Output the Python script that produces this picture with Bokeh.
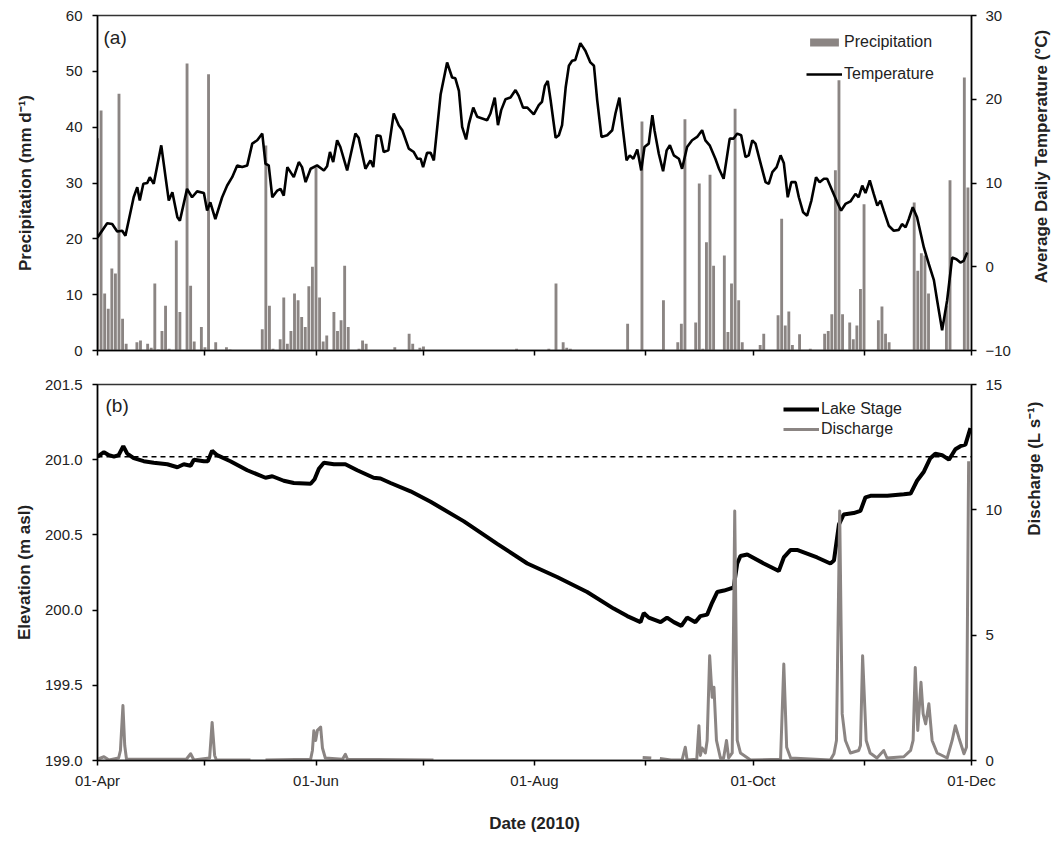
import math
import numpy as np
import pandas as pd
from bokeh.plotting import figure
from bokeh.models import (Range1d, LinearAxis, FixedTicker, DatetimeTickFormatter,
                          PrintfTickFormatter, Legend, LegendItem, Label, Span)
from bokeh.layouts import column, row
from bokeh.embed import file_html
from bokeh.resources import INLINE

# ---------------- data (days since 01-Apr-2010) ----------------
START = pd.Timestamp("2010-04-01")

precip_day = [0, 1, 2, 3, 4, 5, 6, 7, 8,
              11, 12, 14, 15, 16, 17, 18, 19, 20,
              22, 23, 25, 26, 27, 29, 30, 31, 33, 36, 37,
              46, 47, 48, 49, 51, 52, 53, 54, 55, 56, 57, 58, 59, 60, 61, 62, 63, 64,
              66, 67, 68, 69, 70, 73, 74, 75,
              83, 87, 88, 90, 91, 117, 126, 128, 130, 131, 132,
              148, 152, 158, 162, 163, 164, 167, 168, 169, 170, 171, 172,
              175, 176, 177, 178, 179, 180, 185, 186,
              190, 191, 192, 193, 194, 196, 199,
              203, 204, 205, 206, 207, 208, 210, 211, 212, 213, 214,
              218, 219, 220, 221,
              228, 229, 230, 231, 232,
              237, 238, 242, 243]
precip_mm = [38, 43, 10.2, 7.5, 14.7, 13.8, 46, 5.7, 1.2,
             1.5, 1.8, 1.2, 0.5, 12, 0.2, 3.5, 8, 0.3,
             19.7, 6.9, 51.4, 11.6, 1.6, 4.2, 0.6, 49.5, 1.5, 0.6, 0.2,
             3.8, 36.7, 8, 0.3, 2, 9.5, 1.2, 3.5, 10.2, 9, 6, 4.2, 11.5, 15, 32.8, 9.5, 1.6, 2.7,
             6.9, 3.5, 5.4, 15.2, 4.2, 0.3, 1.8, 1.2,
             0.6, 3, 1.2, 0.5, 0.7, 0.3, 0.3, 12, 1.5, 0.5, 0.3,
             4.8, 41, 9, 1.5, 4.8, 41.4, 5, 29.9, 0.3, 19.4, 31.5, 15.2,
             17, 3.3, 12, 43.3, 9, 1.5, 1, 3,
             6.3, 23.6, 4.5, 7, 1, 2.9, 0.3,
             3, 3.5, 6.5, 32.3, 48.4, 6.5, 5, 2, 4.5, 11, 26.2,
             5.4, 7.9, 3, 1.5,
             26.5, 14.3, 17.4, 17, 10.2,
             8, 30.5, 48.9, 29.2]

temp_day = [0, 2.7, 4.1, 5.5, 6.9, 7.8, 10.1, 11.1, 11.8, 12.8, 13.9, 14.6, 15.7, 17.8, 19.0,
            19.9, 20.9, 22.3, 23.0, 25.0, 26.4, 27.8, 29.7, 30.6, 31.5, 32.9, 34.8, 36.2, 37.6,
            39.0, 40.4, 41.8, 43.2, 44.6, 46.0, 46.9, 47.8, 48.8, 50.2, 51.1, 52.0, 53.0, 54.8,
            56.2, 57.1, 58.1, 59.5, 61.3, 63.2, 64.1, 64.9, 65.8, 66.9, 67.8, 69.7, 72.0, 72.9,
            74.8, 76.2, 77.0, 77.9, 79.0, 79.9, 81.2,
            82.7, 84.1, 85.1, 86.9, 88.3, 89.3, 90.2, 90.9, 92.0, 93.0, 93.9, 95.8, 97.6, 99.0,
            99.9, 100.9, 101.8, 102.9, 103.7, 104.9, 106.0, 107.4, 108.8, 109.7, 110.9, 111.8,
            112.7, 113.9, 115.3, 116.7, 117.6, 118.8, 120.0, 121.8, 123.2, 124.1, 124.9, 125.7,
            126.5, 127.9, 128.8, 129.7, 130.7, 131.6, 132.5, 133.4, 134.8, 136.2, 137.6, 138.6,
            139.5, 140.7, 142.3, 143.7, 144.6, 145.7, 146.6, 147.7, 148.6, 149.6, 150.7, 151.1,
            151.8, 152.7, 153.9, 154.9, 155.5, 156.7, 157.9, 158.9, 159.8,
            160.9, 162.3, 163.2, 164.6, 166.0, 167.4, 168.8, 169.7, 170.9, 172.5, 173.5, 174.8,
            176.5, 177.6, 178.6, 179.7, 180.9, 181.8, 182.8, 183.7, 184.9, 186.5, 187.4, 188.4,
            189.6, 190.7, 191.6, 192.7, 193.7, 194.9, 195.8, 197.0, 198.1, 199.3, 200.6, 201.6,
            202.8, 203.7, 205.1, 206.5, 207.6, 208.8, 210.2, 211.6, 212.5, 213.5, 214.4, 215.6,
            216.7, 217.7, 218.6, 219.5, 220.9, 222.3, 223.7, 224.6, 225.6, 226.5, 227.6, 228.8,
            230.7, 232.1, 233.5, 234.4, 235.8, 237.2, 238.6, 239.8, 240.9, 241.8, 242.8]
temp_c = [3.5, 5.2, 5.1, 4.2, 4.3, 3.7, 8.3, 9.5, 7.9, 9.9, 10.0, 10.7, 9.9, 14.5, 10.7,
          7.9, 8.9, 5.9, 5.5, 9.3, 8.3, 9.0, 8.8, 6.7, 7.7, 5.7, 8.3, 9.7, 10.7,
          12.1, 11.9, 12.1, 14.7, 15.1, 15.9, 12.3, 12.1, 8.3, 9.1, 9.3, 8.5, 11.9, 10.7,
          12.5, 11.9, 10.1, 11.7, 12.1, 11.5, 12.0, 13.7, 12.5, 15.1, 14.3, 11.5, 15.9, 15.4,
          11.7, 12.7, 11.9, 15.7, 15.6, 13.7, 13.9,
          18.3, 16.9, 16.3, 14.1, 13.7, 12.9, 12.9, 11.9, 13.6, 13.6, 12.7, 20.6, 24.4, 22.6,
          22.5, 21.0, 16.7, 15.2, 17.1, 19.0, 17.9, 17.7, 17.5, 18.3, 20.2, 16.9,
          18.7, 20.0, 20.2, 21.1, 20.4, 19.0, 19.0, 18.2, 19.3, 19.7, 21.6, 22.2,
          19.9, 15.4, 15.7, 16.9, 21.4, 24.0, 24.6, 24.7, 26.7, 25.8, 24.4, 24.0,
          19.9, 15.5, 15.7, 16.3, 18.3, 20.2, 16.7, 12.7, 13.3, 12.9, 14.0, 13.1,
          11.5, 14.3, 14.7, 18.1, 16.3, 13.5, 11.4, 13.9, 14.5,
          13.3, 12.9, 11.7, 14.3, 15.1, 15.5, 16.3, 15.1, 14.5, 12.9, 11.7, 10.5,
          15.3, 15.3, 15.9, 15.7, 13.1, 13.3, 15.1, 14.7, 12.7, 10.1, 9.9, 11.3,
          11.9, 13.3, 12.4, 8.3, 10.1, 10.1, 8.3, 6.5, 6.1, 7.9, 10.7, 10.1,
          10.5, 10.5, 9.1, 7.7, 6.7, 7.5, 7.8, 8.7, 8.3, 9.7, 8.8, 10.3,
          8.7, 7.3, 7.9, 6.7, 4.9, 4.3, 4.4, 5.1, 4.7, 5.7, 7.1, 5.9,
          2.3, 0.3, -1.6, -4.0, -7.6, -4.0, 1.1, 0.9, 0.5, 0.7, 1.7]

stage_day = [0, 1.8, 3.2, 4.6, 5.9, 7.2, 8.3, 10.1, 12.9, 15.7, 19.5, 22.3, 24.1, 26.0, 26.9,
             29.7, 30.8, 32.0, 33.4, 37.1, 41.8, 46.9, 48.8, 52.0, 54.8, 59.5, 60.6, 61.8, 63.2,
             66.0, 69.2, 72.5, 77.1, 79.0, 81.8, 87.4, 93.0, 102.3, 111.6, 120.0, 128.3, 136.7,
             144.1, 147.9, 151.6, 152.5, 153.9, 157.2, 159.0, 160.9, 163.0, 164.6, 166.9, 168.3,
             170.2, 171.6, 173.0, 174.9, 176.2, 177.6, 178.6, 179.5, 181.4, 186.0, 190.2, 191.6,
             193.5, 195.3, 200.9, 204.6, 205.6, 207.0, 208.3, 211.1, 213.0, 214.4, 215.8, 220.5,
             225.1, 227.0, 228.8, 230.7, 232.5, 233.9, 235.8, 237.7, 239.5, 240.9, 242.3, 243.7]
stage_m = [201.02, 201.05, 201.03, 201.02, 201.03, 201.09, 201.04, 201.01, 200.99, 200.98,
           200.97, 200.95, 200.97, 200.96, 201.00,
           200.99, 200.99, 201.06, 201.03, 200.99, 200.93, 200.88, 200.89, 200.86, 200.845,
           200.84, 200.87, 200.94, 200.98,
           200.97, 200.97, 200.93, 200.88, 200.875, 200.845, 200.79, 200.72, 200.59, 200.44,
           200.31, 200.22, 200.12,
           200.01, 199.96, 199.92, 199.98, 199.95, 199.92, 199.95, 199.92, 199.895, 199.95,
           199.92, 199.96,
           199.97, 200.05, 200.12, 200.13, 200.14, 200.15, 200.31, 200.36, 200.37, 200.31,
           200.26, 200.35,
           200.40, 200.40, 200.35, 200.31, 200.33, 200.57, 200.635, 200.645, 200.66, 200.75,
           200.76, 200.76,
           200.77, 200.775, 200.86, 200.92, 201.01, 201.04, 201.03, 201.00, 201.07, 201.09,
           201.10, 201.21]

nan = float("nan")
discharge_day = [0, 1.8, 3.2, 5.9, 6.4, 7.1, 7.6, 8.1, 24.8, 26.0, 26.9, 31.3, 32.0, 32.7,
                 33.2, 42.7, 44.8,
                 46.9, 59.5, 60.0, 60.4, 60.9, 61.4, 62.3, 62.8, 63.6, 68.4, 69.2, 69.8, 93.8,
                 120.0,
                 152.2, 154.6, 155.8,
                 157.0, 160.1, 163.2, 164.1, 164.6, 167.3, 167.9, 168.3, 168.8, 169.7, 170.2,
                 170.9, 171.6, 172.1, 172.8, 173.9, 174.8, 175.6, 176.2, 177.2, 177.9, 178.6,
                 179.5, 182.3, 190.7, 191.6, 192.4, 193.5, 204.6, 205.6, 206.3, 207.2, 207.9,
                 208.8, 210.2, 212.5, 213.0, 213.6, 214.6, 215.7, 217.6, 219.5, 220.4, 225.1,
                 227.0, 227.7, 228.3, 229.0, 229.9, 230.5, 231.2, 232.1, 233.0, 234.4, 237.2,
                 238.6, 239.5, 240.5, 241.9, 242.6, 243.2]
discharge_ls = [0.05, 0.15, 0.02, 0.1, 0.4, 2.19, 0.6, 0.05, 0.05, 0.27, 0.02, 0.1, 1.52, 0.2,
                0.02, 0.02, nan,
                0.02, 0.05, 0.4, 1.19, 0.8, 1.2, 1.33, 0.5, 0.1, 0.05, 0.25, 0.05, 0.02,
                nan,
                0.12, 0.1, nan,
                0.08, 0.02, 0.02, 0.53, 0.02, 0.05, 1.39, 0.2, 0.5, 0.3, 0.8,
                4.18, 2.52, 2.92, 0.8, 0.1, 0.1, 0.8, 0.1, 0.3, 9.95, 0.8,
                0.3, 0.02, 0.05, 3.85, 0.53, 0.1, 0.02, 0.27, 0.8, 9.95, 1.86,
                0.8, 0.3, 0.4, 0.6, 4.18, 0.8, 0.3, 0.1, 0.4, 0.1, 0.15,
                0.4, 0.8, 3.71, 1.2, 3.12, 1.86, 1.46, 2.26, 0.8, 0.3, 0.1,
                0.8, 1.39, 0.9, 0.27, 0.53, 11.94]

reference_stage = 201.02
labeled_months = ["2010-04-01", "2010-06-01", "2010-08-01", "2010-10-01", "2010-12-01"]
other_months = ["2010-05-01", "2010-07-01", "2010-09-01", "2010-11-01"]

# ---------------- helpers ----------------
def to_dt(days):
    return START + pd.to_timedelta(np.asarray(days, dtype=float), unit="D")

def ms(s):
    return pd.Timestamp(s).value / 1e6

FONT = "Liberation Sans"
GRAY = "#8b8583"
TXT = "#222222"
DAY_MS = 86400000
MAIN_W = 1020   # width of each chart; the remaining 32 px hold the right-hand titles
SIDE_W = 32

x_range = Range1d(start=pd.Timestamp("2010-04-01"), end=pd.Timestamp("2010-12-01"))
x_fmt = DatetimeTickFormatter(days="%d-%b", months="%d-%b", years="%d-%b",
                              hours="%d-%b", hourmin="%d-%b")


def style_axis(ax, tick_size="15px"):
    ax.axis_line_color = "black"
    ax.axis_line_width = 1.5
    ax.major_tick_line_color = "black"
    ax.major_tick_line_width = 1.5
    ax.minor_tick_line_color = "black"
    ax.minor_tick_line_width = 1.5
    ax.major_tick_in = 0
    ax.major_tick_out = 5
    ax.minor_tick_in = 0
    ax.minor_tick_out = 5
    ax.major_label_text_font = FONT
    ax.major_label_text_font_size = tick_size
    ax.major_label_text_color = TXT
    ax.axis_label_text_font = FONT
    ax.axis_label_text_font_size = "17px"
    ax.axis_label_text_font_style = "bold"
    ax.axis_label_text_color = TXT


def side_title(height, text, x, y):
    """A narrow strip holding a right-hand axis title that reads bottom to top."""
    t = figure(width=SIDE_W, height=height, output_backend="svg", toolbar_location=None,
               x_axis_location=None, y_axis_location=None, min_border=0,
               x_range=Range1d(0, 1), y_range=Range1d(0, 1))
    t.grid.visible = False
    t.outline_line_color = None
    t.add_layout(Label(x=x, y=y, x_units="screen", y_units="screen", text=text,
                       angle=90, angle_units="deg", text_align="center",
                       text_baseline="middle", text_font=FONT, text_font_size="17px",
                       text_font_style="bold", text_color=TXT))
    return t


# ---------------- panel (a) ----------------
p1 = figure(width=MAIN_W, height=365, x_axis_type="datetime", x_range=x_range,
            y_range=Range1d(0, 60), output_backend="svg", toolbar_location=None,
            min_border_left=97, min_border_right=MAIN_W - 971,
            min_border_top=15, min_border_bottom=15)
p1.extra_y_ranges = {"temp": Range1d(-10, 30)}
p1.grid.visible = False
p1.outline_line_color = "#333333"
p1.outline_line_width = 1.5

bars = p1.vbar(x=to_dt(precip_day), top=precip_mm, width=0.8 * DAY_MS,
               fill_color=GRAY, line_color=None)
tline = p1.line(x=to_dt(temp_day), y=temp_c, y_range_name="temp",
                line_color="black", line_width=2.6)

# top panel: month ticks only (no labels)
p1.xaxis.ticker = FixedTicker(ticks=[],
                              minor_ticks=[ms(t) for t in sorted(labeled_months + other_months)])
p1.xaxis.formatter = x_fmt
style_axis(p1.xaxis[0])

p1.yaxis.ticker = FixedTicker(ticks=[0, 10, 20, 30, 40, 50, 60])
style_axis(p1.yaxis[0])
p1.yaxis.major_label_standoff = 10
p1.yaxis.axis_label = "Precipitation (mm d\u207b\u00b9)"
p1.yaxis.axis_label_standoff = 28

tax = LinearAxis(y_range_name="temp", ticker=FixedTicker(ticks=[-10, 0, 10, 20, 30]))
style_axis(tax)
tax.major_label_standoff = 9
p1.add_layout(tax, "right")

leg1 = Legend(items=[LegendItem(label="Precipitation", renderers=[bars]),
                     LegendItem(label="Temperature", renderers=[tline])],
              location=(709, 266), padding=0, margin=0, spacing=12,
              glyph_width=36, glyph_height=10, label_height=20, label_standoff=2,
              label_text_font=FONT, label_text_font_size="16px", label_text_color=TXT,
              border_line_color=None, background_fill_alpha=0)
p1.add_layout(leg1)
p1.add_layout(Label(x=6, y=313, x_units="screen", y_units="screen", text="(a)",
                    text_font=FONT, text_font_size="19px", text_color=TXT,
                    text_baseline="middle"))

t1 = side_title(365, "Average Daily Temperature (\u00b0C)", 21, 194)

# ---------------- panel (b) ----------------
p2 = figure(width=MAIN_W, height=476, x_axis_type="datetime", x_range=x_range,
            y_range=Range1d(199.0, 201.5), output_backend="svg", toolbar_location=None,
            min_border_left=97, min_border_right=MAIN_W - 971,
            min_border_top=19, min_border_bottom=81)
p2.extra_y_ranges = {"q": Range1d(0, 15)}
p2.grid.visible = False
p2.outline_line_color = "#333333"
p2.outline_line_width = 1.5

sline = p2.line(x=to_dt(stage_day), y=stage_m, line_color="black", line_width=4)
qline = p2.line(x=to_dt(discharge_day), y=discharge_ls, y_range_name="q",
                line_color=GRAY, line_width=3, line_join="round")
p2.add_layout(Span(location=reference_stage, dimension="width", line_color="black",
                   line_width=1.5, line_dash="5 4"))

p2.xaxis.ticker = FixedTicker(ticks=[ms(t) for t in labeled_months],
                              minor_ticks=[ms(t) for t in other_months])
p2.xaxis.formatter = x_fmt
style_axis(p2.xaxis[0])
p2.xaxis.major_label_standoff = 6
p2.xaxis.axis_label = "Date (2010)"
p2.xaxis.axis_label_standoff = 22

p2.yaxis.ticker = FixedTicker(ticks=[199.0, 199.5, 200.0, 200.5, 201.0, 201.5])
p2.yaxis.formatter = PrintfTickFormatter(format="%.1f")
style_axis(p2.yaxis[0])
p2.yaxis.major_label_standoff = 10
p2.yaxis.axis_label = "Elevation (m asl)"
p2.yaxis.axis_label_standoff = 8

qax = LinearAxis(y_range_name="q", ticker=FixedTicker(ticks=[0, 5, 10, 15]))
style_axis(qax)
qax.major_label_standoff = 9
p2.add_layout(qax, "right")

leg2 = Legend(items=[LegendItem(label="Lake Stage", renderers=[sline]),
                     LegendItem(label="Discharge", renderers=[qline])],
              location=(686, 321), padding=0, margin=0, spacing=0,
              glyph_width=36, glyph_height=10, label_height=20, label_standoff=2,
              label_text_font=FONT, label_text_font_size="16px", label_text_color=TXT,
              border_line_color=None, background_fill_alpha=0)
p2.add_layout(leg2)
p2.add_layout(Label(x=8, y=355, x_units="screen", y_units="screen", text="(b)",
                    text_font=FONT, text_font_size="19px", text_color=TXT,
                    text_baseline="middle"))

t2 = side_title(476, "Discharge (L s\u207b\u00b9)", 14, 292)

layout = column(row(p1, t1, spacing=0), row(p2, t2, spacing=0), spacing=0)
open("out.html", "w").write(file_html(layout, INLINE))
